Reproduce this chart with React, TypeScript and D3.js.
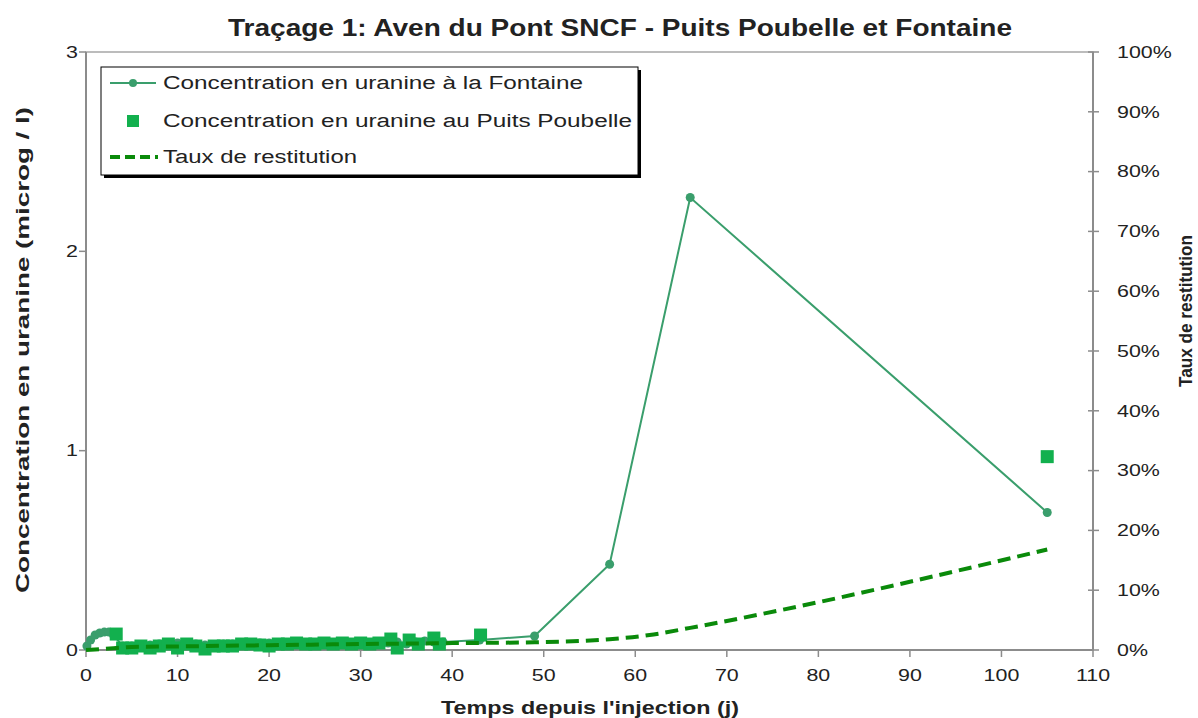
import React from "react";
import * as d3 from "d3";

const title = "Traçage 1: Aven du Pont SNCF - Puits Poubelle et Fontaine";
const xTitle = "Temps depuis l'injection (j)";
const yTitle = "Concentration en uranine (microg / l)";
const y2Title = "Taux de restitution";
const legendLabels = [
  "Concentration en uranine à la Fontaine",
  "Concentration en uranine au Puits Poubelle",
  "Taux de restitution",
];

const xTicks = [0, 10, 20, 30, 40, 50, 60, 70, 80, 90, 100, 110];
const yTicks = [0, 1, 2, 3];
const y2Ticks = [0, 0.1, 0.2, 0.3, 0.4, 0.5, 0.6, 0.7, 0.8, 0.9, 1.0];

// Fontaine (line + dots)
const fontaineDays = [0.1, 0.5, 1, 1.5, 2, 2.5, 3, 4, 5, 6, 7, 8, 9, 10, 11, 12, 13, 14, 15, 16, 17, 18, 19, 20, 21, 22, 23, 24, 25, 26, 27, 28, 29, 30, 31, 32, 33, 34, 35, 36, 37, 38, 39, 43, 49, 57.2, 66, 105];
const fontaineConc = [0.02, 0.05, 0.075, 0.085, 0.09, 0.09, 0.075, 0.02, 0.02, 0.02, 0.025, 0.03, 0.03, 0.035, 0.03, 0.03, 0.025, 0.025, 0.03, 0.03, 0.03, 0.035, 0.035, 0.035, 0.03, 0.035, 0.035, 0.03, 0.035, 0.035, 0.03, 0.03, 0.035, 0.035, 0.03, 0.035, 0.035, 0.04, 0.03, 0.04, 0.045, 0.04, 0.04, 0.05, 0.07, 0.43, 2.27, 0.69];

// Puits Poubelle (squares)
const puitsDays = [3.3, 4, 5, 6, 7, 8, 9, 10, 11, 12, 13, 14, 15, 16, 17, 18, 19, 20, 21, 22, 23, 24, 25, 26, 27, 28, 29, 30, 31, 32, 33.3, 34, 35.3, 36.3, 38, 38.6, 43.1, 105];
const puitsConc = [0.08, 0.01, 0.01, 0.02, 0.01, 0.02, 0.03, 0.01, 0.03, 0.02, 0.005, 0.02, 0.02, 0.02, 0.03, 0.03, 0.025, 0.02, 0.03, 0.03, 0.035, 0.03, 0.03, 0.035, 0.03, 0.035, 0.03, 0.035, 0.03, 0.035, 0.055, 0.01, 0.05, 0.03, 0.06, 0.03, 0.075, 0.97];

// Taux de restitution (right axis)
const tauxDays = [0, 2, 5, 10, 20, 30, 40, 49, 57.2, 62, 66, 105];
const tauxValues = [0, 0.002, 0.005, 0.006, 0.008, 0.01, 0.0115, 0.013, 0.018, 0.026, 0.037, 0.168];

const W = 1198;
const H = 718;
const L = 86, R = 1093, TOP = 52, BOT = 650;
const FONT = "'Liberation Sans', Arial, Helvetica, sans-serif";
const SX = 1.26;

export default function App() {
  const x = d3.scaleLinear().domain([0, 110]).range([L, R]);
  const y = d3.scaleLinear().domain([0, 3]).range([BOT, TOP]);
  const y2 = d3.scaleLinear().domain([0, 1]).range([BOT, TOP]);

  const fontaine = fontaineDays.map((d, i) => [d, fontaineConc[i]] as [number, number]);
  const puits = puitsDays.map((d, i) => [d, puitsConc[i]] as [number, number]);
  const taux = tauxDays.map((d, i) => [d, tauxValues[i]] as [number, number]);

  const lineF = d3.line<[number, number]>().x((d) => x(d[0])).y((d) => y(d[1]));
  const lineT = d3.line<[number, number]>().x((d) => x(d[0])).y((d) => y2(d[1])).curve(d3.curveMonotoneX);

  const cF = "#3a9e6c";
  const cP = "#12b04e";
  const cT = "#0a8a0a";
  const axisC = "#8c8c8c";
  const sq = 13;

  const txt = (
    key: string,
    s: string,
    tx: number,
    ty: number,
    anchor: "start" | "middle" | "end",
    size = 17,
    weight = "normal"
  ) => (
    <text
      key={key}
      transform={`translate(${tx},${ty}) scale(${SX},1)`}
      textAnchor={anchor}
      dominantBaseline="central"
      fontSize={size}
      fontWeight={weight}
      fontFamily={FONT}
      fill="#222"
    >
      {s}
    </text>
  );

  return (
    <svg width={W} height={H} style={{ position: "absolute", left: 0, top: 0, background: "#fff" }}>
      {/* title */}
      <text x={620} y={27} textAnchor="middle" dominantBaseline="central" fontSize={24} fontWeight="bold" fontFamily={FONT} fill="#222" textLength={784} lengthAdjust="spacingAndGlyphs">
        {title}
      </text>

      {/* plot frame */}
      <rect x={L} y={TOP} width={R - L} height={BOT - TOP} fill="none" stroke="#a6a6a6" strokeWidth={1.5} />
      <line x1={L} x2={L} y1={TOP} y2={BOT} stroke={axisC} strokeWidth={2} />
      <line x1={R} x2={R} y1={TOP} y2={BOT} stroke={axisC} strokeWidth={2} />
      <line x1={L} x2={R} y1={BOT} y2={BOT} stroke={axisC} strokeWidth={2} />

      {/* x ticks */}
      {xTicks.map((t) => (
        <g key={"xt" + t}>
          <line x1={x(t)} x2={x(t)} y1={BOT} y2={BOT + 7} stroke={axisC} strokeWidth={1.5} />
          {txt("xl" + t, String(t), x(t), 675, "middle")}
        </g>
      ))}
      {/* y ticks */}
      {yTicks.map((t) => (
        <g key={"yt" + t}>
          <line x1={L - 7} x2={L} y1={y(t)} y2={y(t)} stroke={axisC} strokeWidth={1.5} />
          {txt("yl" + t, String(t), 78, y(t), "end")}
        </g>
      ))}
      {/* y2 ticks */}
      {y2Ticks.map((t) => (
        <g key={"y2t" + t}>
          <line x1={R - 5} x2={R + 6} y1={y2(t)} y2={y2(t)} stroke={axisC} strokeWidth={1.5} />
          {txt("y2l" + t, d3.format(".0%")(t), 1117, y2(t), "start")}
        </g>
      ))}

      {/* axis titles */}
      <text x={590} y={707} textAnchor="middle" dominantBaseline="central" fontSize={19} fontWeight="bold" fontFamily={FONT} fill="#222" textLength={298} lengthAdjust="spacingAndGlyphs">
        {xTitle}
      </text>
      <text transform={`translate(22,350) rotate(-90)`} textAnchor="middle" dominantBaseline="central" fontSize={19} fontWeight="bold" fontFamily={FONT} fill="#222" textLength={486} lengthAdjust="spacingAndGlyphs">
        {yTitle}
      </text>
      <text transform={`translate(1186,311) rotate(-90)`} textAnchor="middle" dominantBaseline="central" fontSize={18} fontWeight="bold" fontFamily={FONT} fill="#222" textLength={152} lengthAdjust="spacingAndGlyphs">
        {y2Title}
      </text>

      {/* series */}
      <path d={lineF(fontaine) || ""} fill="none" stroke={cF} strokeWidth={2} />
      {fontaine.map((d, i) => (
        <circle key={"f" + i} cx={x(d[0])} cy={y(d[1])} r={4.5} fill={cF} />
      ))}
      {puits.map((d, i) => (
        <rect key={"p" + i} x={x(d[0]) - sq / 2} y={y(d[1]) - sq / 2} width={sq} height={sq} fill={cP} />
      ))}
      <path d={lineT(taux) || ""} fill="none" stroke={cT} strokeWidth={4} strokeDasharray="13,7" />

      {/* legend */}
      <rect x={104} y={70} width={537} height={108} fill="#000" />
      <rect x={101} y={67} width={537} height={108} fill="#fff" stroke="#000" strokeWidth={1} />
      <line x1={110} x2={156} y1={83} y2={83} stroke={cF} strokeWidth={2} />
      <circle cx={133} cy={83} r={4} fill={cF} />
      <rect x={127} y={115} width={12} height={12} fill={cP} />
      <line x1={110} x2={158} y1={157} y2={157} stroke={cT} strokeWidth={4} strokeDasharray="10,5" />
      {[83, 121, 157].map((ly, i) => (
        <text key={"lg" + i} x={163} y={ly} dominantBaseline="central" fontSize={18} fontFamily={FONT} fill="#222" textLength={[420, 469, 194][i]} lengthAdjust="spacingAndGlyphs">
          {legendLabels[i]}
        </text>
      ))}
    </svg>
  );
}
